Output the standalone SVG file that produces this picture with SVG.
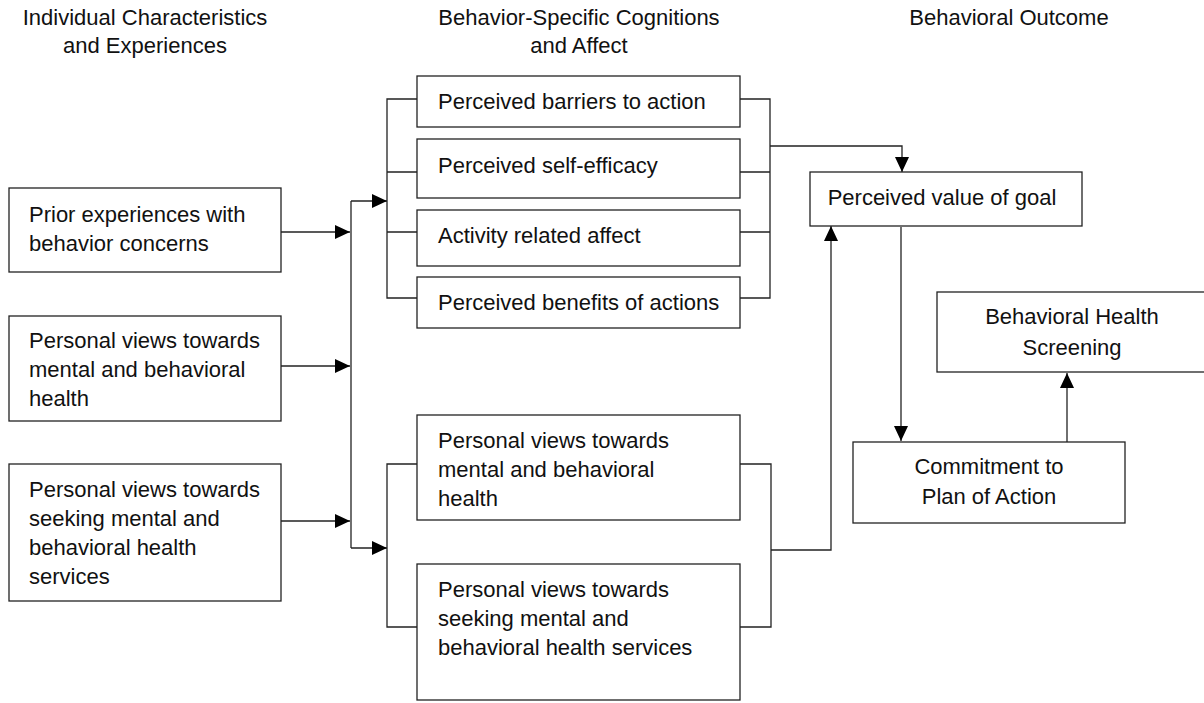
<svg xmlns="http://www.w3.org/2000/svg" width="1204" height="703" viewBox="0 0 1204 703">
<style>
text{font-family:"Liberation Sans",Arial,sans-serif;font-size:22px;fill:#111}
.c{text-anchor:middle}
rect{fill:#fff;stroke:#222;stroke-width:1.3}
.ln{fill:none;stroke:#222;stroke-width:1.3}
</style>
<defs>
<marker id="ah" markerUnits="userSpaceOnUse" markerWidth="16" markerHeight="15" refX="15" refY="7" orient="auto">
<path d="M0,0 L15,7 L0,14 Z" fill="#000"/>
</marker>
</defs>
<g id="headers">
<text class="c" x="145" y="25">Individual Characteristics</text>
<text class="c" x="145" y="53">and Experiences</text>
<text class="c" x="579" y="25">Behavior-Specific Cognitions</text>
<text class="c" x="579" y="53">and Affect</text>
<text class="c" x="1009" y="25">Behavioral Outcome</text>
</g>
<g id="connectors">
<path class="ln" d="M281,232 H350" marker-end="url(#ah)"/>
<path class="ln" d="M281,366 H350" marker-end="url(#ah)"/>
<path class="ln" d="M281,521 H350" marker-end="url(#ah)"/>
<path class="ln" d="M351,201 V548"/>
<path class="ln" d="M351,201 H387" marker-end="url(#ah)"/>
<path class="ln" d="M351,548 H387" marker-end="url(#ah)"/>
<path class="ln" d="M417,99 H387 V298 H417 M387,172 H417 M387,232 H417"/>
<path class="ln" d="M740,99 H770 V298 H740 M770,172 H740 M770,232 H740"/>
<path class="ln" d="M770,146 H902 V172" marker-end="url(#ah)"/>
<path class="ln" d="M417,464 H387 V627 H417"/>
<path class="ln" d="M740,464 H771 V627 H740"/>
<path class="ln" d="M771,550 H831 V226" marker-end="url(#ah)"/>
<path class="ln" d="M901,227 V441" marker-end="url(#ah)"/>
<path class="ln" d="M1067,442 V373" marker-end="url(#ah)"/>
</g>
<g id="prior">
<rect x="9" y="188" width="272" height="84"/>
<text x="29" y="222">Prior experiences with</text>
<text x="29" y="251">behavior concerns</text>
</g>
<g id="views-health-1">
<rect x="9" y="316" width="272" height="105"/>
<text x="29" y="348">Personal views towards</text>
<text x="29" y="377">mental and behavioral</text>
<text x="29" y="406">health</text>
</g>
<g id="views-services-1">
<rect x="9" y="464" width="272" height="137"/>
<text x="29" y="497">Personal views towards</text>
<text x="29" y="526">seeking mental and</text>
<text x="29" y="555">behavioral health</text>
<text x="29" y="584">services</text>
</g>
<g id="barriers">
<rect x="417" y="76" width="323" height="51"/>
<text x="438" y="109">Perceived barriers to action</text>
</g>
<g id="self-efficacy">
<rect x="417" y="139" width="323" height="59"/>
<text x="438" y="173">Perceived self-efficacy</text>
</g>
<g id="affect">
<rect x="417" y="210" width="323" height="56"/>
<text x="438" y="243">Activity related affect</text>
</g>
<g id="benefits">
<rect x="417" y="277" width="323" height="51"/>
<text x="438" y="310">Perceived benefits of actions</text>
</g>
<g id="views-health-2">
<rect x="417" y="415" width="323" height="105"/>
<text x="438" y="448">Personal views towards</text>
<text x="438" y="477">mental and behavioral</text>
<text x="438" y="506">health</text>
</g>
<g id="views-services-2">
<rect x="417" y="564" width="323" height="136"/>
<text x="438" y="597">Personal views towards</text>
<text x="438" y="626">seeking mental and</text>
<text x="438" y="655">behavioral health services</text>
</g>
<g id="value">
<rect x="810" y="172" width="272" height="54"/>
<text class="c" x="942" y="205">Perceived value of goal</text>
</g>
<g id="screening">
<rect x="937" y="292" width="272" height="80"/>
<text class="c" x="1072" y="324">Behavioral Health</text>
<text class="c" x="1072" y="355">Screening</text>
</g>
<g id="commitment">
<rect x="853" y="442" width="272" height="81"/>
<text class="c" x="989" y="474">Commitment to</text>
<text class="c" x="989" y="504">Plan of Action</text>
</g>
</svg>
